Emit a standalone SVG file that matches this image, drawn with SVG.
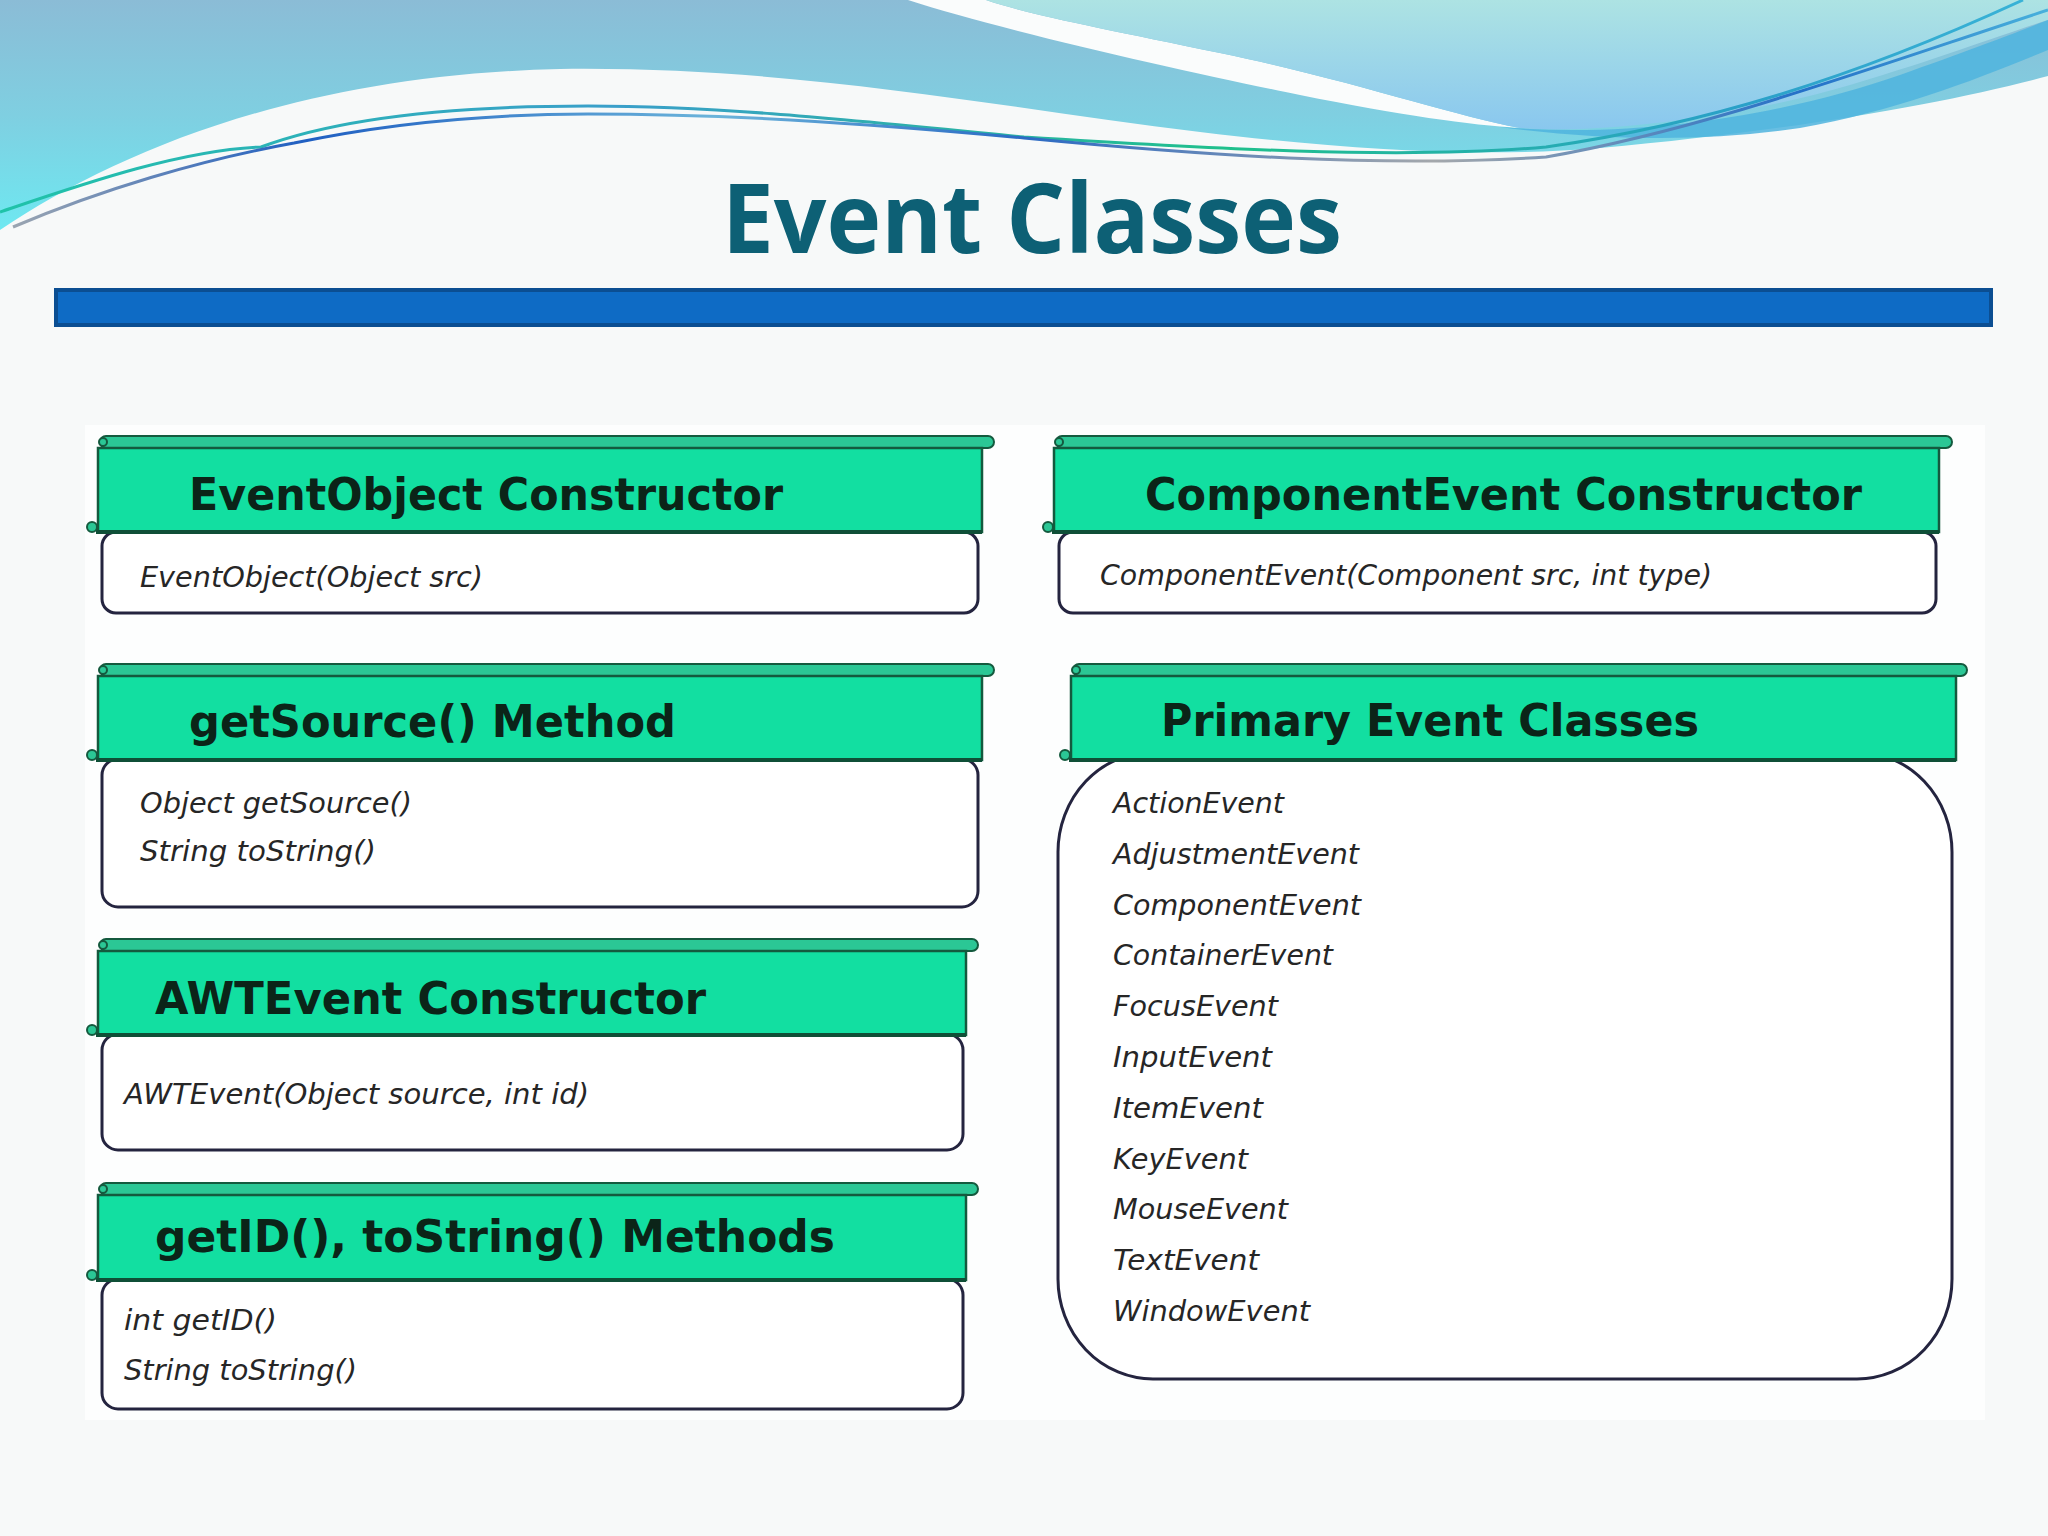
<svg xmlns="http://www.w3.org/2000/svg" width="2048" height="1536" viewBox="0 0 2048 1536">
<defs>
<linearGradient id="gLeft" x1="0" y1="0" x2="0" y2="230" gradientUnits="userSpaceOnUse">
<stop offset="0" stop-color="#8bbcd6"/>
<stop offset="0.5" stop-color="#7fcfe1"/>
<stop offset="1" stop-color="#6ee8f1"/>
</linearGradient>
<linearGradient id="gRight" x1="0" y1="0" x2="0" y2="135" gradientUnits="userSpaceOnUse">
<stop offset="0" stop-color="#ade3e3"/>
<stop offset="1" stop-color="#88c6ef"/>
</linearGradient>
<linearGradient id="gLineA" x1="0" y1="0" x2="2048" y2="0" gradientUnits="userSpaceOnUse">
<stop offset="0" stop-color="#1fc3a8"/>
<stop offset="0.3" stop-color="#3a9fca"/>
<stop offset="0.6" stop-color="#1fc08c"/>
<stop offset="0.85" stop-color="#2aa0c8"/>
<stop offset="1" stop-color="#3ab4d8"/>
</linearGradient>
<linearGradient id="gLineB" x1="0" y1="0" x2="2048" y2="0" gradientUnits="userSpaceOnUse">
<stop offset="0" stop-color="#a0a8b0"/>
<stop offset="0.15" stop-color="#1f5fc2"/>
<stop offset="0.35" stop-color="#6bb4da"/>
<stop offset="0.5" stop-color="#2b6ac4"/>
<stop offset="0.7" stop-color="#a4a8ac"/>
<stop offset="0.88" stop-color="#2470c8"/>
<stop offset="1" stop-color="#48b0dc"/>
</linearGradient>
</defs>
<style>
.strip{fill:#2bc795;stroke:#145a3e;stroke-width:2}
.hdr{fill:#12dfa1;stroke:#145a3e;stroke-width:2.5}
.hb{stroke:#0f4f37;stroke-width:4;fill:none}
.body{fill:#ffffff;stroke:#24243f;stroke-width:3}
.curl{fill:#2bc795;stroke:#145a3e;stroke-width:2}
.ht{font-family:'DejaVu Sans',Verdana,sans-serif;font-weight:bold;font-size:45px;fill:#0b2418}
.bt{font-family:'DejaVu Sans',Verdana,sans-serif;font-style:italic;font-size:28px;fill:#262626}
</style>

<g id="background">
<rect x="0" y="0" width="2048" height="1536" fill="#f7f9f9"/>
<path d="M0,0 H2048 V76 C1950,102 1800,130 1600,148 C1480,158 1350,150 1200,132 C1000,108 800,66 560,69 C300,75 120,150 0,230 Z" fill="url(#gLeft)"/>
<path d="M908,0 C1000,30 1200,75 1300,95 C1400,115 1470,125 1520,128 C1450,115 1350,80 1220,53 C1100,28 1030,15 986,0 Z" fill="#fafcfc"/>
<path d="M986,0 C1030,15 1100,28 1220,53 C1350,80 1450,115 1520,128 C1600,135 1750,115 1850,85 C1950,55 2000,35 2048,20 V0 Z" fill="url(#gRight)"/>
<path d="M1500,127 C1650,140 1800,110 1900,75 C1970,50 2010,35 2048,20 V50 C1980,78 1900,110 1800,128 C1700,143 1600,140 1500,127 Z" fill="#4fb4de" opacity="0.85"/>
<path d="M0,212 C80,185 180,150 261,147 C320,125 420,106 588,106 C720,106 850,120 1024,137 C1200,148 1400,160 1546,147 C1700,125 1850,80 2023,0" fill="none" stroke="url(#gLineA)" stroke-width="3"/>
<path d="M13,227 C100,190 200,160 294,143 C380,125 480,114 588,114 C720,114 850,122 1024,138 C1200,155 1380,168 1546,157 C1700,130 1850,75 2048,10" fill="none" stroke="url(#gLineB)" stroke-width="3"/>
</g>

<g id="title">
<text x="722" y="253" font-family="'Open Sans','DejaVu Sans',sans-serif" font-weight="bold" font-size="97" fill="#0d6075" textLength="620" lengthAdjust="spacingAndGlyphs">Event Classes</text>
<rect x="56" y="290" width="1935" height="35" fill="#0e6bc5" stroke="#0b4e92" stroke-width="4"/>
</g>

<rect id="panel" x="85" y="425" width="1900" height="995" fill="#fdfefe"/>

<g id="node-eventobject">
<rect class="body" x="102" y="532" width="876" height="81" rx="14"/>
<rect class="strip" x="100" y="436" width="894" height="12" rx="6"/>
<rect class="hdr" x="98" y="448" width="884" height="84"/>
<line class="hb" x1="96" y1="532" x2="982" y2="532"/>
<circle class="curl" cx="103" cy="442" r="4"/>
<circle class="curl" cx="92" cy="527" r="5"/>
<text class="ht" x="189" y="510" textLength="594" lengthAdjust="spacingAndGlyphs">EventObject Constructor</text>
<text class="bt" x="140" y="587" textLength="343" lengthAdjust="spacingAndGlyphs">EventObject(Object src)</text>
</g>

<g id="node-getsource">
<rect class="body" x="102" y="759" width="876" height="148" rx="16"/>
<rect class="strip" x="100" y="664" width="894" height="12" rx="6"/>
<rect class="hdr" x="98" y="676" width="884" height="84"/>
<line class="hb" x1="96" y1="760" x2="982" y2="760"/>
<circle class="curl" cx="103" cy="670" r="4"/>
<circle class="curl" cx="92" cy="755" r="5"/>
<text class="ht" x="189" y="737" textLength="487" lengthAdjust="spacingAndGlyphs">getSource() Method</text>
<text class="bt" x="140" y="813" textLength="272" lengthAdjust="spacingAndGlyphs">Object getSource()</text>
<text class="bt" x="140" y="861" textLength="236" lengthAdjust="spacingAndGlyphs">String toString()</text>
</g>

<g id="node-awtevent">
<rect class="body" x="102" y="1034" width="861" height="116" rx="16"/>
<rect class="strip" x="100" y="939" width="878" height="12" rx="6"/>
<rect class="hdr" x="98" y="951" width="868" height="84"/>
<line class="hb" x1="96" y1="1035" x2="966" y2="1035"/>
<circle class="curl" cx="103" cy="945" r="4"/>
<circle class="curl" cx="92" cy="1030" r="5"/>
<text class="ht" x="155" y="1014" textLength="551" lengthAdjust="spacingAndGlyphs">AWTEvent Constructor</text>
<text class="bt" x="124" y="1104" textLength="465" lengthAdjust="spacingAndGlyphs">AWTEvent(Object source, int id)</text>
</g>

<g id="node-getid">
<rect class="body" x="102" y="1279" width="861" height="130" rx="16"/>
<rect class="strip" x="100" y="1183" width="878" height="12" rx="6"/>
<rect class="hdr" x="98" y="1195" width="868" height="85"/>
<line class="hb" x1="96" y1="1280" x2="966" y2="1280"/>
<circle class="curl" cx="103" cy="1189" r="4"/>
<circle class="curl" cx="92" cy="1275" r="5"/>
<text class="ht" x="155" y="1252" textLength="680" lengthAdjust="spacingAndGlyphs">getID(), toString() Methods</text>
<text class="bt" x="124" y="1330" textLength="153" lengthAdjust="spacingAndGlyphs">int getID()</text>
<text class="bt" x="124" y="1380" textLength="233" lengthAdjust="spacingAndGlyphs">String toString()</text>
</g>

<g id="node-componentevent">
<rect class="body" x="1059" y="532" width="877" height="81" rx="14"/>
<rect class="strip" x="1056" y="436" width="896" height="12" rx="6"/>
<rect class="hdr" x="1054" y="448" width="885" height="84"/>
<line class="hb" x1="1052" y1="532" x2="1939" y2="532"/>
<circle class="curl" cx="1059" cy="442" r="4"/>
<circle class="curl" cx="1048" cy="527" r="5"/>
<text class="ht" x="1145" y="510" textLength="717" lengthAdjust="spacingAndGlyphs">ComponentEvent Constructor</text>
<text class="bt" x="1100" y="585" textLength="612" lengthAdjust="spacingAndGlyphs">ComponentEvent(Component src, int type)</text>
</g>

<g id="node-primary">
<rect class="body" x="1058" y="752" width="894" height="627" rx="95" ry="100"/>
<rect class="strip" x="1073" y="664" width="894" height="12" rx="6"/>
<rect class="hdr" x="1071" y="676" width="885" height="84"/>
<line class="hb" x1="1069" y1="760" x2="1956" y2="760"/>
<circle class="curl" cx="1076" cy="670" r="4"/>
<circle class="curl" cx="1065" cy="755" r="5"/>
<text class="ht" x="1161" y="736" textLength="538" lengthAdjust="spacingAndGlyphs">Primary Event Classes</text>
<text class="bt" x="1113" y="813" textLength="171" lengthAdjust="spacingAndGlyphs">ActionEvent</text>
<text class="bt" x="1113" y="864" textLength="246" lengthAdjust="spacingAndGlyphs">AdjustmentEvent</text>
<text class="bt" x="1113" y="915" textLength="248" lengthAdjust="spacingAndGlyphs">ComponentEvent</text>
<text class="bt" x="1113" y="965" textLength="220" lengthAdjust="spacingAndGlyphs">ContainerEvent</text>
<text class="bt" x="1113" y="1016" textLength="165" lengthAdjust="spacingAndGlyphs">FocusEvent</text>
<text class="bt" x="1113" y="1067" textLength="159" lengthAdjust="spacingAndGlyphs">InputEvent</text>
<text class="bt" x="1113" y="1118" textLength="150" lengthAdjust="spacingAndGlyphs">ItemEvent</text>
<text class="bt" x="1113" y="1169" textLength="135" lengthAdjust="spacingAndGlyphs">KeyEvent</text>
<text class="bt" x="1113" y="1219" textLength="175" lengthAdjust="spacingAndGlyphs">MouseEvent</text>
<text class="bt" x="1113" y="1270" textLength="146" lengthAdjust="spacingAndGlyphs">TextEvent</text>
<text class="bt" x="1113" y="1321" textLength="197" lengthAdjust="spacingAndGlyphs">WindowEvent</text>
</g>

<g id="connectors"/>
</svg>
